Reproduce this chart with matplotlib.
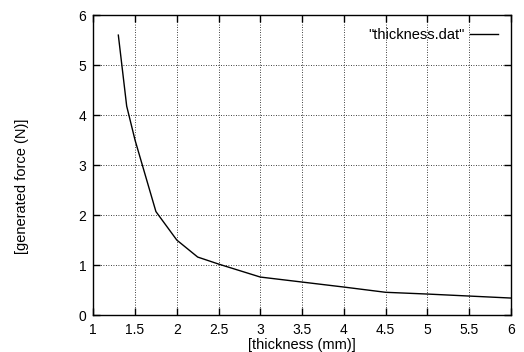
import matplotlib
matplotlib.use("Agg")
from matplotlib import pyplot as plt

plt.rcParams['font.family'] = ['Liberation Sans', 'DejaVu Sans']

# values
thickness = [1.3, 1.4, 1.5, 1.75, 2.0, 2.25, 2.5, 3.0, 4.0, 4.5, 5.0, 6.0]
force = [5.6, 4.18, 3.5, 2.07, 1.5, 1.16, 1.02, 0.76, 0.56, 0.455, 0.42, 0.34]
xticks = [1, 1.5, 2, 2.5, 3, 3.5, 4, 4.5, 5, 5.5, 6]
xticklabels = ["1", "1.5", "2", "2.5", "3", "3.5", "4", "4.5", "5", "5.5", "6"]
yticks = [0, 1, 2, 3, 4, 5, 6]

fig = plt.figure(figsize=(5.24, 3.52), dpi=100)
ax = fig.add_axes([0.178, 0.105, 0.797, 0.852])

ax.plot(thickness, force, color="black", lw=1.0, label='"thickness.dat"')

ax.set_xlim(1, 6)
ax.set_ylim(0, 6)
ax.set_xticks(xticks)
ax.set_xticklabels(xticklabels)
ax.set_yticks(yticks)
ax.tick_params(direction="in", length=5, width=1.0, top=True, right=True,
               labelsize=10, pad=5)
ax.tick_params(axis="x", pad=6)
ax.grid(True, color="black", linestyle=(0, (1, 2)), linewidth=0.6)
for s in ax.spines.values():
    s.set_linewidth(1.0)

ax.set_xlabel("[thickness (mm)]", fontsize=10.5, labelpad=0.5)
fig.text(0.042, 0.47, "[generated force (N)]", rotation=90, fontsize=10.5,
         ha="center", va="center")

ax.legend(loc="upper right", frameon=False, fontsize=10.5, markerfirst=False,
          handlelength=1.9, borderaxespad=0.5, handletextpad=0.4)

fig.savefig("out.png", dpi=100)
